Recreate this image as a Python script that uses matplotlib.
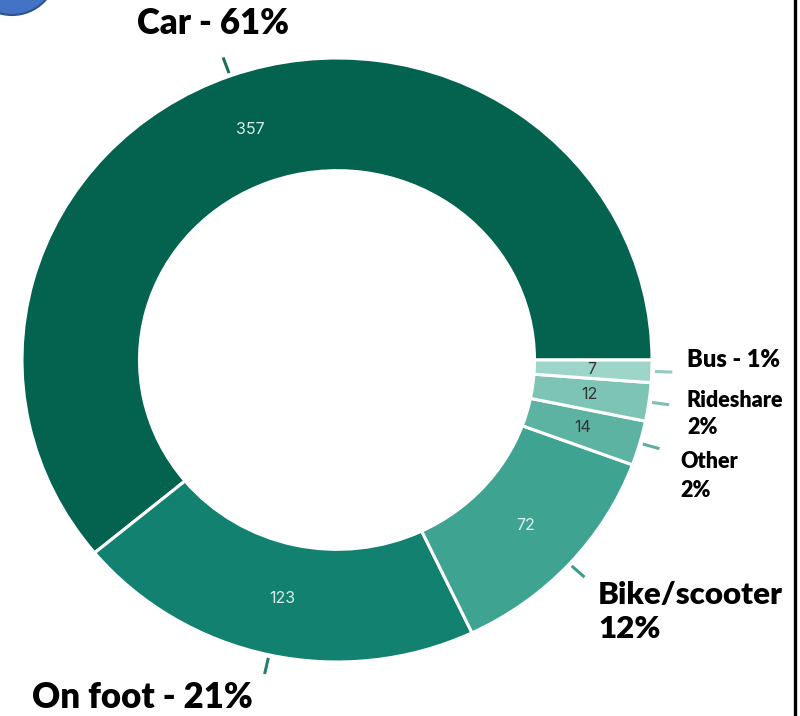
"""
Commute mode donut chart.
"""

import numpy as np
import matplotlib
matplotlib.use("Agg")
import matplotlib.pyplot as plt
from matplotlib.patches import Circle


modes = ["Car", "On foot", "Bike/scooter", "Other", "Rideshare", "Bus"]
counts = [357, 123, 72, 14, 12, 7]
labels = ["Car - 61%", "On foot - 21%", "Bike/scooter\n12%", "Other\n2%",
          "Rideshare\n2%", "Bus - 1%"]

colors = ["#03634f", "#128170", "#3fa391", "#5db3a2", "#7dc4b5", "#9dd5c8"]
tick_colors = ["#1f6e5d", "#247f70", "#3f9c8c", "#63ad9f", "#80bfb2", "#95cbbf"]
number_colors = ["#d6ebe6", "#d6ebe6", "#e2f2ee", "#333333", "#333333", "#333333"]


fig = plt.figure(figsize=(8, 7.16), dpi=100)

# background layer in pixel coords
bg = fig.add_axes([0, 0, 1, 1])
bg.set_xlim(0, 800)
bg.set_ylim(716, 0)
bg.axis("off")
bg.add_patch(Circle((12, -30), 45, facecolor="#4472c4",
                    edgecolor="#2f528f", linewidth=1.5))
bg.plot([794.5, 794.5], [0, 716], color="black", linewidth=2.4)

# donut, center at (337, 360) px, radii 315 x 302 px
ax = fig.add_axes([0, 0, 1, 1])
wedges, _ = ax.pie(
    counts,
    startangle=0,
    counterclock=True,
    colors=colors,
    wedgeprops=dict(width=0.373, edgecolor="white", linewidth=2.2),
)
ax.set_aspect("auto")
ax.set_xlim(-337 / 315, 463 / 315)
ax.set_ylim(-356 / 302, 360 / 302)
ax.axis("off")

for w, n, nc, tc in zip(wedges, counts, number_colors, tick_colors):
    mid = np.deg2rad((w.theta1 + w.theta2) / 2)
    r = 0.81
    ax.text(r * np.cos(mid), r * np.sin(mid), str(n),
            ha="center", va="center", fontsize=11.5,
            color=nc, family=["Inter", "DejaVu Sans"])
    ax.plot([1.01 * np.cos(mid), 1.065 * np.cos(mid)],
            [1.01 * np.sin(mid), 1.065 * np.sin(mid)],
            color=tc, linewidth=2.2, solid_capstyle="butt")

font = ["Lato", "DejaVu Sans"]
wt = "heavy"

bg.text(213, 24, labels[0], ha="center", va="center",
        fontsize=25, fontweight=wt, family=font)
bg.text(142, 698, labels[1], ha="center", va="center",
        fontsize=25, fontweight=wt, family=font)
bg.text(598, 612, labels[2], ha="left", va="center",
        fontsize=22.5, fontweight=wt, family=font, linespacing=1.25)
bg.text(680, 476, labels[3], ha="left", va="center",
        fontsize=15.5, fontweight=wt, family=font, linespacing=1.45)
bg.text(687, 414, labels[4], ha="left", va="center",
        fontsize=15.5, fontweight=wt, family=font, linespacing=1.4)
bg.text(687, 360, labels[5], ha="left", va="center",
        fontsize=17, fontweight=wt, family=font)

fig.savefig("out.png", dpi=100)
